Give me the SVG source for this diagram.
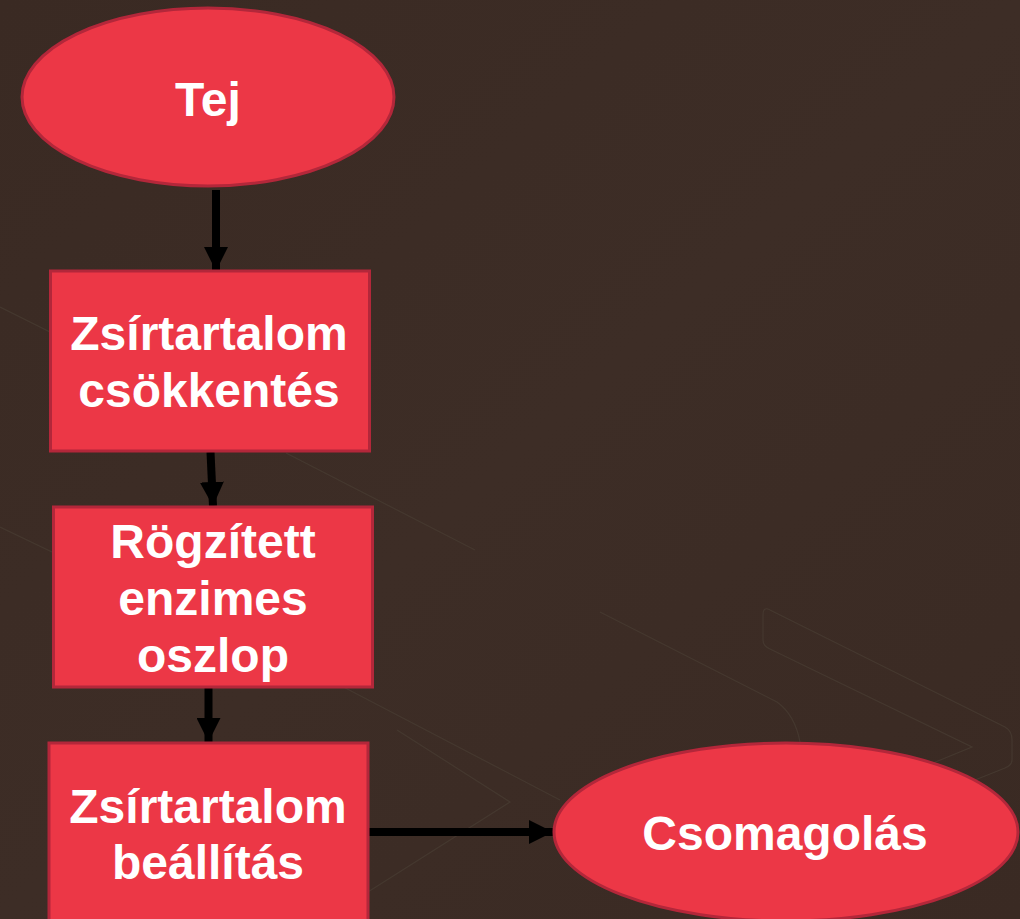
<svg xmlns="http://www.w3.org/2000/svg" width="1020" height="919" viewBox="0 0 1020 919">
  <defs>
    <style>
      .node { fill: #ec3746; stroke: #b3273a; stroke-width: 3; }
      .label { font-family: "Liberation Sans", Arial, sans-serif; font-weight: bold; font-size: 48px; fill: #ffffff; text-anchor: middle; }
      .conn { stroke: #000000; stroke-width: 8; fill: none; }
      .deco { stroke: #45382f; stroke-width: 1.2; fill: none; }
    </style>
    <marker id="arrow" markerUnits="userSpaceOnUse" markerWidth="24" markerHeight="24" refX="24" refY="12" orient="auto">
      <path d="M0,0 L24,12 L0,24 Z" fill="#000000"/>
    </marker>
    <linearGradient id="bg" x1="0" y1="0" x2="1" y2="1">
      <stop offset="0" stop-color="#3a2a23"/>
      <stop offset="0.5" stop-color="#3d2d26"/>
      <stop offset="1" stop-color="#3a2a23"/>
    </linearGradient>
  </defs>

  <g id="background">
    <rect x="0" y="0" width="1020" height="919" fill="url(#bg)"/>
    <path class="deco" d="M0,307 L50,332"/>
    <path class="deco" d="M0,527 L52,552"/>
    <path class="deco" d="M286,453 L475,550"/>
    <path class="deco" d="M330,680 L560,800"/>
    <path class="deco" d="M397,730 L510,802 L360,897"/>
    <path class="deco" d="M600,612 L777,702 Q795,715 800,742"/>
    <path class="deco" d="M770,610 Q763,606 763,615 L763,640 Q763,646 770,649 L972,747 L933,763"/>
    <path class="deco" d="M770,610 L1005,727 Q1012,731 1012,740 L1012,760 Q1012,765 1005,768 L975,780"/>
  </g>

  <g id="connectors">
    <line class="conn" x1="216" y1="190" x2="216" y2="271" marker-end="url(#arrow)"/>
    <line class="conn" x1="210.5" y1="452" x2="213" y2="506" marker-end="url(#arrow)"/>
    <line class="conn" x1="208.5" y1="688" x2="208.5" y2="742" marker-end="url(#arrow)"/>
    <line class="conn" x1="369" y1="832" x2="553" y2="832" marker-end="url(#arrow)"/>
  </g>

  <g id="node-tej">
    <ellipse class="node" cx="208" cy="97" rx="186" ry="89"/>
    <text class="label" x="208" y="116">Tej</text>
  </g>

  <g id="node-zsircsokkentes">
    <rect class="node" x="50.5" y="271" width="319" height="180"/>
    <text class="label" x="209" y="350">Zsírtartalom</text>
    <text class="label" x="209" y="407">csökkentés</text>
  </g>

  <g id="node-rogzitett">
    <rect class="node" x="53.5" y="507" width="319" height="180"/>
    <text class="label" x="213" y="558">Rögzített</text>
    <text class="label" x="213" y="615">enzimes</text>
    <text class="label" x="213" y="672">oszlop</text>
  </g>

  <g id="node-zsirbeallitas">
    <rect class="node" x="49" y="743" width="319" height="190"/>
    <text class="label" x="208" y="823">Zsírtartalom</text>
    <text class="label" x="208" y="879">beállítás</text>
  </g>

  <g id="node-csomagolas">
    <ellipse class="node" cx="786" cy="832" rx="232" ry="89"/>
    <text class="label" x="785" y="850">Csomagolás</text>
  </g>
</svg>
